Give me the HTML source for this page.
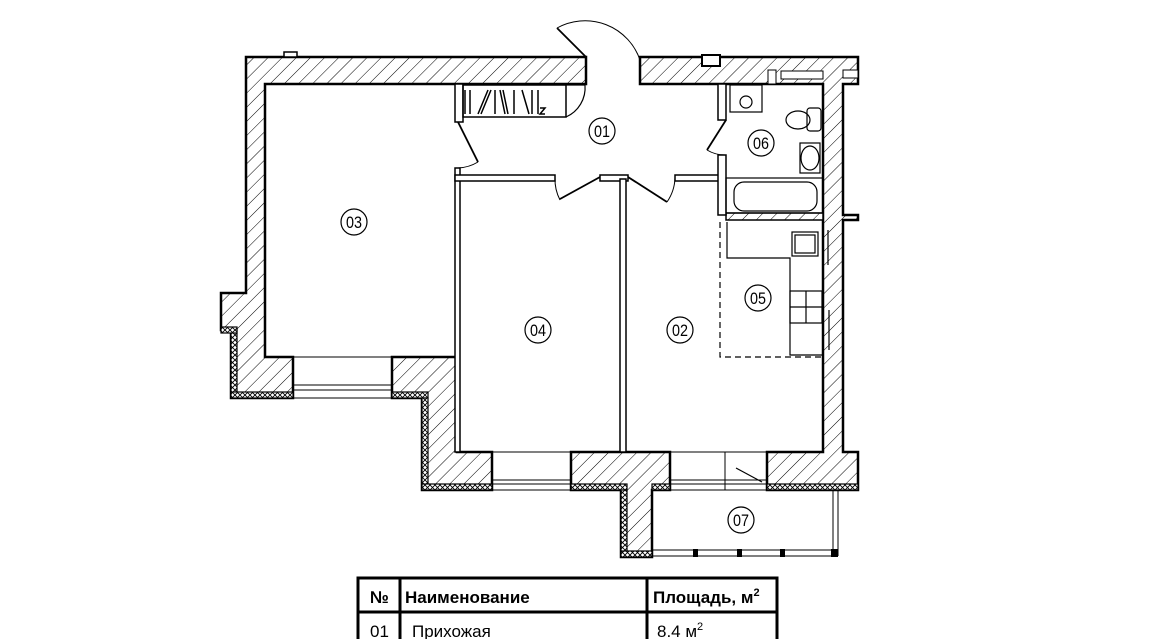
<!DOCTYPE html>
<html><head><meta charset="utf-8"><style>
html,body{margin:0;padding:0;background:#fff;width:1150px;height:639px;overflow:hidden}
svg{position:absolute;left:0;top:0}
text{font-family:"Liberation Sans",sans-serif}
</style></head><body>
<svg width="1150" height="639" viewBox="0 0 1150 639" xmlns="http://www.w3.org/2000/svg">
<defs>
<pattern id="h" patternUnits="userSpaceOnUse" width="10" height="10" patternTransform="rotate(45)">
<rect width="10" height="10" fill="#fff"/><line x1="0" y1="0" x2="0" y2="10" stroke="#000" stroke-width="1"/>
</pattern>
<pattern id="x" patternUnits="userSpaceOnUse" width="5" height="5">
<rect width="5" height="5" fill="#fff"/><path d="M0 0L5 5M5 0L0 5" stroke="#000" stroke-width="0.9"/>
</pattern>
</defs>
<g stroke="#000" stroke-width="2.5" fill="url(#h)">
<path d="M246 57H586V84H265V357H293V398H231V330H221V293H246Z"/>
<path d="M392 357H457V452H492V490H422V398H392Z"/>
<path d="M571 452H670V490H652V557H621V490H571Z"/>
<path d="M640 57H858V84H843V215H858V220H843V452H858V490H767V452H823V84H640Z"/>
<path d="M726 213H823V220H726Z" stroke-width="1.5"/>
</g>
<g fill="url(#x)" stroke="#000" stroke-width="1.2">
<rect x="231" y="330" width="6" height="68"/><rect x="221" y="327" width="16" height="6"/>
<rect x="231" y="392" width="62" height="6"/>
<rect x="392" y="392" width="36" height="6"/>
<rect x="422" y="398" width="6" height="92"/><rect x="422" y="484" width="70" height="6"/>
<rect x="571" y="484" width="56" height="6"/><rect x="621" y="490" width="6" height="67"/>
<rect x="621" y="551" width="31" height="6"/><rect x="652" y="484" width="18" height="6"/>
<rect x="767" y="484" width="91" height="6"/>
</g>
<rect x="284" y="52" width="13" height="5" fill="#fff" stroke="#000" stroke-width="1.5"/>
<rect x="702" y="55" width="18" height="11" fill="#fff" stroke="#000" stroke-width="2"/>
<rect x="768" y="70" width="8" height="14" fill="#fff" stroke="#000" stroke-width="1"/>
<rect x="781" y="71" width="42" height="8" fill="#fff" stroke="#000" stroke-width="1"/>
<rect x="843" y="70" width="15" height="8" fill="#fff" stroke="#000" stroke-width="1"/>
<g stroke="#000" stroke-width="1" fill="none">
<path d="M293 357H392M293 385H392M293 390H392M293 398H392"/>
<path d="M492 452H571M492 480H571M492 484H571M492 490H571"/>
<path d="M670 452H767M670 480H767M670 484H767M670 490H767"/>
<path d="M725 452V490"/>
<path d="M652 550H836M652 556H836M833 490V556M838 490V556" />
</g>
<g fill="#000"><rect x="693" y="549" width="5" height="8"/><rect x="737" y="549" width="5" height="8"/><rect x="780" y="549" width="5" height="8"/><rect x="831" y="549" width="7" height="8"/></g>
<path d="M736 468L762 482" stroke="#000" stroke-width="1.2"/>
<g fill="#fff" stroke="#000" stroke-width="1.5">
<rect x="455" y="168" width="5" height="284"/>
<rect x="455" y="175" width="100" height="6"/>
<rect x="600" y="175" width="28" height="6"/>
<rect x="620" y="179" width="6" height="273"/>
<rect x="675" y="175" width="47" height="6"/>
<rect x="718" y="84" width="8" height="36"/>
<rect x="718" y="155" width="8" height="60"/>
<rect x="455" y="84" width="8" height="38"/>
</g>
<g stroke="#000" stroke-width="1.8" fill="none">
<path d="M586 57L557 28"/><path d="M557 28A58 58 0 0 1 640 60" stroke-width="1"/>
<path d="M600 177L560 199"/><path d="M555 178A45 45 0 0 0 560 200" stroke-width="1"/>
<path d="M628 177L667 202"/><path d="M667 202A45 45 0 0 0 675 178" stroke-width="1"/>
<path d="M458 122L478 162"/><path d="M478 162A42 42 0 0 1 458 168" stroke-width="1"/>
<path d="M726 120L707 150"/><path d="M707 150A35 35 0 0 0 726 155" stroke-width="1"/>
</g>
<g stroke="#000" fill="none" stroke-width="1.5">
<rect x="463" y="85" width="103" height="32"/>
<path d="M566 85H585A32 32 0 0 1 566 117" stroke-width="1.2"/>
<path d="M465 90V114M470 90V114M478 114L488 90M481 114L491 90M495 90V114M500 90L505 114M503 90L508 114M514 90V114M522 90L529 114M532 90V114M538 90V114M540 108L545 108L540 114H545"/>
</g>
<g stroke="#000" fill="none" stroke-width="1.2">
<rect x="730" y="85" width="32" height="27"/><circle cx="746" cy="102" r="6"/>
<ellipse cx="798" cy="120" rx="12" ry="9"/><rect x="807" y="108" width="14" height="23" rx="3"/>
<rect x="800" y="143" width="20" height="30"/><ellipse cx="810" cy="158" rx="9" ry="12"/>
<rect x="726" y="178" width="97" height="35"/><rect x="734" y="182" width="83" height="29" rx="10"/>
</g>
<g stroke="#000" fill="none" stroke-width="1.2">
<path d="M720 222V357H823" stroke-dasharray="6 4"/>
<path d="M727 222V258H790V355H823"/>
<rect x="792" y="232" width="26" height="24"/><rect x="795" y="235" width="20" height="18"/>
<rect x="790" y="291" width="32" height="32"/><path d="M806 291V323M790 307H822"/>
<path d="M828 230V265M829 310V350" />
</g>
<g fill="none" stroke="#000" stroke-width="1.2">
<circle cx="602" cy="131" r="13"/><circle cx="354" cy="222" r="13"/>
<circle cx="538" cy="330" r="13"/><circle cx="680" cy="330" r="13"/>
<circle cx="758" cy="298" r="13"/><circle cx="761" cy="143" r="13"/>
<circle cx="741" cy="520" r="13"/>
</g>
<g font-size="17" text-anchor="middle" fill="#000">
<text x="602" y="137" textLength="16" lengthAdjust="spacingAndGlyphs">01</text><text x="354" y="228" textLength="16" lengthAdjust="spacingAndGlyphs">03</text>
<text x="538" y="336" textLength="16" lengthAdjust="spacingAndGlyphs">04</text><text x="680" y="336" textLength="16" lengthAdjust="spacingAndGlyphs">02</text>
<text x="758" y="304" textLength="16" lengthAdjust="spacingAndGlyphs">05</text><text x="761" y="149" textLength="16" lengthAdjust="spacingAndGlyphs">06</text>
<text x="741" y="526" textLength="16" lengthAdjust="spacingAndGlyphs">07</text>
</g>
<g stroke="#000" stroke-width="3" fill="none">
<path d="M358 639V578H777V639M358 612H777M400 578V639M647 578V639"/>
</g>
<g font-size="17" fill="#000">
<text x="370" y="603" font-weight="bold">№</text>
<text x="405" y="603" font-weight="bold">Наименование</text>
<text x="653" y="603" font-weight="bold">Площадь, м<tspan font-size="11" dy="-7">2</tspan></text>
<text x="370" y="637">01</text>
<text x="412" y="637">Прихожая</text>
<text x="657" y="637">8.4 м<tspan font-size="11" dy="-7">2</tspan></text>
</g>
</svg>
</body></html>
